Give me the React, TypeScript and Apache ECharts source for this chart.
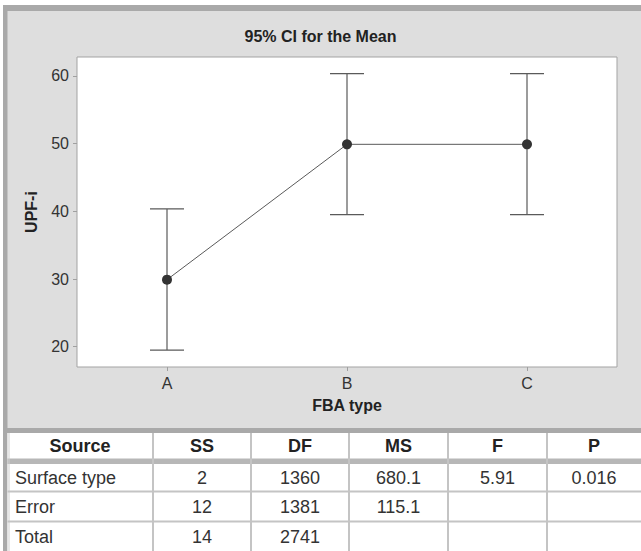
import React, { useEffect, useRef } from "react";
import * as echarts from "echarts";

const categories = ["A", "B", "C"];
const means = [29.9, 49.9, 49.9];
const lowerCI = [19.5, 39.5, 39.5];
const upperCI = [40.35, 60.35, 60.35];
const yTicks = [20, 30, 40, 50, 60];

const tableHeaders = ["Source", "SS", "DF", "MS", "F", "P"];
const tableSources = ["Surface type", "Error", "Total"];
const colSS = ["2", "12", "14"];
const colDF = ["1360", "1381", "2741"];
const colMS = ["680.1", "115.1", ""];
const colF = ["5.91", "", ""];
const colP = ["0.016", "", ""];

const FONT = "'Liberation Sans', Arial, Helvetica, sans-serif";

export default function App() {
  const ref = useRef<HTMLDivElement>(null);

  useEffect(() => {
    if (!ref.current) return;
    const chart = echarts.init(ref.current, undefined, { renderer: "svg" });

    const border = "#a9a9a9";
    const graphics: any[] = [
      { type: "rect", shape: { x: 0, y: 0, width: 641, height: 5 }, style: { fill: "#ffffff" }, silent: true },
      { type: "rect", shape: { x: 0, y: 0, width: 3, height: 551 }, style: { fill: "#ffffff" }, silent: true },
      { type: "rect", shape: { x: 3, y: 5, width: 638, height: 6 }, style: { fill: border }, silent: true },
      { type: "rect", shape: { x: 3, y: 5, width: 4.5, height: 546 }, style: { fill: border }, silent: true },
      { type: "rect", shape: { x: 7, y: 428, width: 634, height: 5 }, style: { fill: border }, silent: true },
      { type: "rect", shape: { x: 7.5, y: 433, width: 634, height: 118 }, style: { fill: "#ffffff" }, silent: true },
      { type: "rect", shape: { x: 7.5, y: 458.5, width: 634, height: 5.5 }, style: { fill: "#b7b7b7" }, silent: true },
      { type: "line", shape: { x1: 9, y1: 433, x2: 9, y2: 551 }, style: { stroke: "#cfcfcf", lineWidth: 1 }, silent: true },
    ];
    const rowLineY = [491.5, 521.5];
    rowLineY.forEach((y) =>
      graphics.push({ type: "line", shape: { x1: 7.5, y1: y, x2: 641, y2: y }, style: { stroke: "#c4c4c4", lineWidth: 2 }, silent: true })
    );
    const colLineX = [153, 251, 349, 448, 547];
    colLineX.forEach((x) =>
      graphics.push({ type: "line", shape: { x1: x, y1: 433, x2: x, y2: 551 }, style: { stroke: "#c4c4c4", lineWidth: 2 }, silent: true })
    );
    const colCenters = [80, 202, 300, 398.5, 497.5, 594];
    tableHeaders.forEach((h, i) =>
      graphics.push({
        type: "text",
        x: colCenters[i],
        y: 446,
        style: { text: h, font: `bold 18px ${FONT}`, fill: "#222222", align: "center", verticalAlign: "middle" },
        silent: true,
      })
    );
    const rowY = [478, 507, 536.5];
    const dataCols = [colSS, colDF, colMS, colF, colP];
    tableSources.forEach((s, r) => {
      graphics.push({
        type: "text",
        x: 15,
        y: rowY[r],
        style: { text: s, font: `18px ${FONT}`, fill: "#333333", align: "left", verticalAlign: "middle" },
        silent: true,
      });
      dataCols.forEach((col, c) => {
        if (!col[r]) return;
        graphics.push({
          type: "text",
          x: colCenters[c + 1],
          y: rowY[r],
          style: { text: col[r], font: `18px ${FONT}`, fill: "#333333", align: "center", verticalAlign: "middle" },
          silent: true,
        });
      });
    });

    const ciData = categories.map((_, i) => [i, lowerCI[i], upperCI[i]]);

    chart.setOption({
      animation: false,
      backgroundColor: "#dedede",
      textStyle: { fontFamily: FONT },
      title: {
        text: "95% CI for the Mean",
        left: "center",
        top: 28,
        padding: [0, 0, 0, 11],
        textStyle: { fontSize: 16, fontWeight: "bold", color: "#222222", fontFamily: FONT },
      },
      grid: {
        left: 77,
        right: 24,
        top: 57,
        bottom: 184,
        show: true,
        backgroundColor: "#ffffff",
        borderColor: "#a3a3a3",
        borderWidth: 1,
      },
      xAxis: {
        type: "category",
        data: categories,
        boundaryGap: true,
        name: "FBA type",
        nameLocation: "middle",
        nameGap: 30,
        nameTextStyle: { fontSize: 16, fontWeight: "bold", color: "#222222", fontFamily: FONT },
        axisLine: { show: false },
        axisTick: { show: true, alignWithLabel: true, length: 4, lineStyle: { color: "#a0a0a0" } },
        axisLabel: { fontSize: 16, color: "#333333", margin: 8, fontFamily: FONT },
        splitLine: { show: false },
      },
      yAxis: {
        type: "value",
        min: 17,
        max: 62.8,
        name: "UPF-i",
        nameLocation: "middle",
        nameGap: 38,
        nameTextStyle: { fontSize: 16, fontWeight: "bold", color: "#222222", fontFamily: FONT },
        axisLine: { show: false },
        axisTick: { show: true, length: 4, lineStyle: { color: "#a0a0a0" }, customValues: yTicks },
        axisLabel: { fontSize: 16, color: "#333333", margin: 8, fontFamily: FONT, customValues: yTicks },
        splitLine: { show: false },
      },
      series: [
        {
          type: "custom",
          z: 2,
          data: ciData,
          encode: { x: 0, y: [1, 2] },
          renderItem: (params: any, api: any) => {
            const x = api.value(0);
            const lo = api.coord([x, api.value(1)]);
            const hi = api.coord([x, api.value(2)]);
            const hw = 17;
            const style = { stroke: "#5a5a5a", lineWidth: 1.2 };
            return {
              type: "group",
              children: [
                { type: "line", shape: { x1: lo[0], y1: lo[1], x2: hi[0], y2: hi[1] }, style },
                { type: "line", shape: { x1: lo[0] - hw, y1: lo[1], x2: lo[0] + hw, y2: lo[1] }, style },
                { type: "line", shape: { x1: hi[0] - hw, y1: hi[1], x2: hi[0] + hw, y2: hi[1] }, style },
              ],
            };
          },
        },
        {
          type: "line",
          z: 3,
          data: means,
          symbol: "circle",
          symbolSize: 10,
          showSymbol: true,
          itemStyle: { color: "#333333" },
          lineStyle: { color: "#5a5a5a", width: 1 },
        },
      ],
      graphic: graphics,
    });

    return () => chart.dispose();
  }, []);

  return (
    <div
      ref={ref}
      style={{ position: "absolute", left: 0, top: 0, width: 641, height: 551 }}
    />
  );
}
